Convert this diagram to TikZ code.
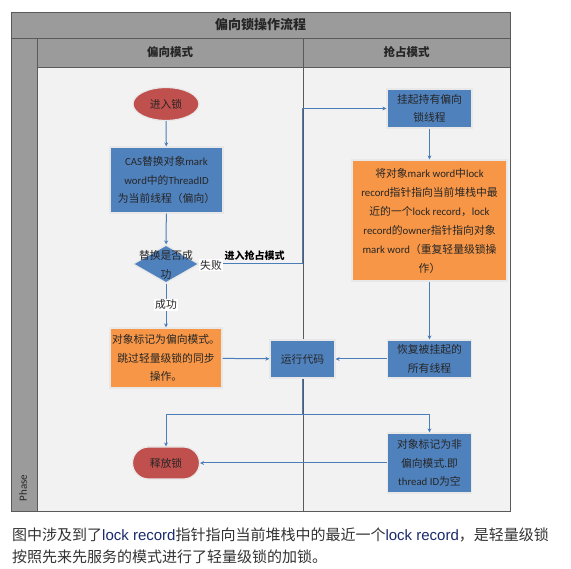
\documentclass[tikz,border=0pt]{standalone}
\usepackage{fontspec}
\usetikzlibrary{shapes.geometric,shapes.misc,arrows.meta}
\setmainfont{Carlito}
\newfontfamily\cjkf{Noto Sans CJK SC}
\newfontfamily\carl{Carlito}
\newfontfamily\libs{Liberation Sans}
\def\latf{\carl}
\XeTeXinterchartokenstate=1
\newXeTeXintercharclass\CJKcls
\count255="4E00
\loop \XeTeXcharclass\count255=\CJKcls \ifnum\count255<"9FFF \advance\count255 by 1 \repeat
\count255="3000
\loop \XeTeXcharclass\count255=\CJKcls \ifnum\count255<"303F \advance\count255 by 1 \repeat
\count255="FF00
\loop \XeTeXcharclass\count255=\CJKcls \ifnum\count255<"FFEF \advance\count255 by 1 \repeat
\XeTeXinterchartoks 0 \CJKcls = {\cjkf}
\XeTeXinterchartoks 4095 \CJKcls = {\cjkf}
\XeTeXinterchartoks \CJKcls 0 = {\latf}
\XeTeXinterchartoks 4095 0 = {\latf}
\definecolor{hdr}{HTML}{9B9B9B}
\definecolor{lane}{HTML}{F2F2F2}
\definecolor{frm}{HTML}{5A5A5A}
\definecolor{bluef}{HTML}{4F81BD}
\definecolor{orf}{HTML}{F79646}
\definecolor{redf}{HTML}{C0504D}
\definecolor{conn}{HTML}{4A7EBB}
\definecolor{txt}{HTML}{262626}
\definecolor{navy}{HTML}{1A2A6C}
\tikzset{
  box/.style={draw=white!82!gray, line width=1.2pt, text=txt, align=center, inner sep=0pt,
    font=\fontsize{10.8}{18.5}\selectfont},
  bluebox/.style={box, fill=bluef},
  orbox/.style={box, fill=orf},
  flow/.style={draw=conn, line width=1pt, -{Stealth[length=4pt,width=4pt]}},
  line/.style={draw=conn, line width=1pt},
  lbl/.style={text=txt, inner sep=1pt, font=\fontsize{10.8}{12}\selectfont},
  hdrtext/.style={text=txt, font=\fontsize{11.5}{13}\selectfont\bfseries},
  captext/.style={anchor=base west, inner sep=0pt, text=black!80, font=\fontsize{15}{22}\selectfont\def\latf{\libs}\libs},
}
\begin{document}
\begin{tikzpicture}[x=1pt,y=-1pt]
\useasboundingbox (0,0) rectangle (571,569);
\fill[white] (0,0) rectangle (571,569);
% frame
\fill[lane] (37,67) rectangle (510,511);
\fill[hdr] (11,12) rectangle (510,38);
\fill[hdr] (11,38) rectangle (37,511);
\fill[hdr] (37,38) rectangle (510,67);
\draw[frm, line width=0.8pt] (11,12) rectangle (510,511);
\draw[frm, line width=0.8pt] (11,38) -- (510,38);
\draw[frm, line width=0.8pt] (37,67) -- (510,67);
\draw[frm, line width=0.8pt] (37,38) -- (37,511);
\draw[frm, line width=0.8pt] (303,38) -- (303,511);
\node[hdrtext, font=\fontsize{13}{15}\selectfont\bfseries] (title) at (260.5,25) {偏向锁操作流程};
\node[hdrtext] (lane1) at (170,52.5) {偏向模式};
\node[hdrtext] (lane2) at (406.5,52.5) {抢占模式};
\node[rotate=90, font=\fontsize{11}{13}\selectfont, text=txt] (phase) at (23,488) {Phase};
% nodes
\node[box, ellipse, fill=redf, minimum width=66pt, minimum height=33pt] (enter) at (166,104) {进入锁};
\node[bluebox, minimum width=113pt, minimum height=66pt] (cas) at (166.5,180) {CAS替换对象mark\\word中的ThreadID\\为当前线程（偏向）};
\node[diamond, fill=bluef, draw=white!82!gray, line width=1.2pt, minimum width=66pt, minimum height=38pt, inner sep=0pt] (dia) at (166,264) {};
\node[text=txt, align=center, font=\fontsize{10.8}{19}\selectfont] (diat) at (166,265) {替换是否成\\功};
\node[orbox, minimum width=112pt, minimum height=60pt] (orl) at (166,358) {对象标记为偏向模式。\\跳过轻量级锁的同步\\操作。};
\node[bluebox, minimum width=65pt, minimum height=38pt] (run) at (302.5,359) {运行代码};
\node[bluebox, minimum width=85pt, minimum height=39pt] (hang) at (429.5,108.5) {挂起持有偏向\\锁线程};
\node[orbox, minimum width=155pt, minimum height=121pt, font=\fontsize{10.8}{19}\selectfont] (big) at (429.5,220.5) {将对象mark word中lock\\record指针指向当前堆栈中最\\近的一个lock record，lock\\record的owner指针指向对象\\mark word（重复轻量级锁操\\作）};
\node[bluebox, minimum width=84pt, minimum height=38pt] (rec) at (429.5,359) {恢复被挂起的\\所有线程};
\node[bluebox, minimum width=84pt, minimum height=60pt] (nonb) at (429.5,463) {对象标记为非\\偏向模式.即\\thread ID为空};
\node[box, rounded rectangle, fill=redf, minimum width=67pt, minimum height=32pt] (rel) at (166,463) {释放锁};
% connectors
\draw[flow] (enter) -- (cas);
\draw[flow] (cas) -- (dia);
\draw[flow] (dia) -- node[lbl, fill=white, pos=0.48] (ok) {成功} (orl);
\coordinate (c1) at (302,264);
\coordinate (c2) at (302,108.5);
\draw[flow] (dia.east) -- (c1) -- (c2) -- (hang.west);
\node[lbl, fill=white] (fail) at (211,265) {失败};
\node[lbl, font=\fontsize{10}{12}\selectfont\bfseries, text=black] (into) at (254.5,255.5) {进入抢占模式};
\draw[flow] (orl) -- (run);
\draw[flow] (hang) -- (big);
\draw[flow] (big) -- (rec);
\draw[flow] (rec) -- (run);
\coordinate (j) at (302.5,415);
\draw[line] (run.south) -- (j);
\draw[flow] (j) -| (rel.north);
\draw[flow] (j) -| (nonb.north);
\draw[flow] (nonb.west) -- (rel.east);
% caption
\node[captext] (cap1) at (12,540) {图中涉及到了\textcolor{navy}{lock record}指针指向当前堆栈中的最近一个\textcolor{navy}{lock record}，是轻量级锁};
\node[captext] (cap2) at (12,562) {按照先来先服务的模式进行了轻量级锁的加锁。};
\end{tikzpicture}
\end{document}
